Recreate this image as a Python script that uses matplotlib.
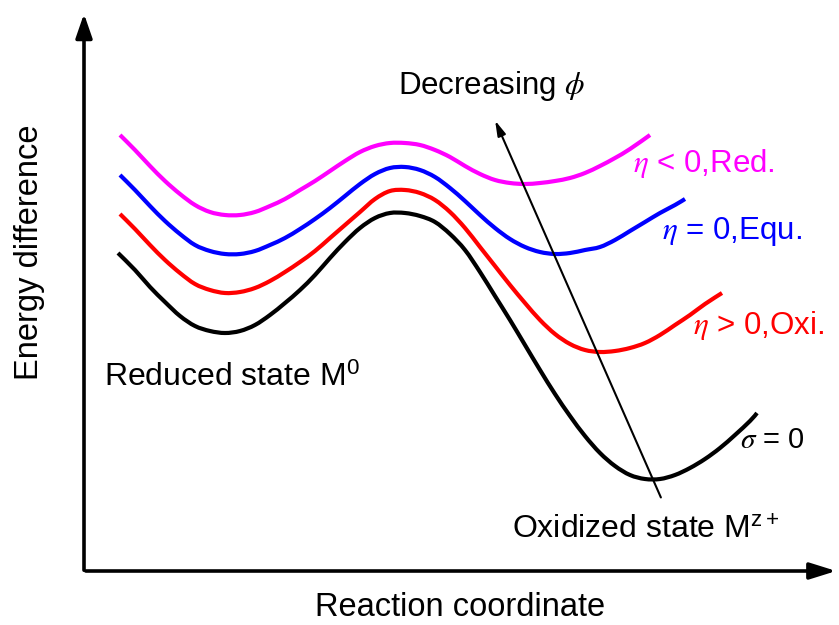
import matplotlib
matplotlib.use("Agg")
import matplotlib.pyplot as plt
from matplotlib.path import Path
from matplotlib.patches import PathPatch

plt.rcParams['font.family'] = ['Liberation Sans', 'DejaVu Sans']
plt.rcParams['mathtext.fontset'] = 'stix'

# curves (x, y in picture units, y grows downward)
black_x = [118, 135, 150, 165, 180, 195, 210, 225, 240, 255, 270, 285, 300, 315, 330, 345, 360, 375, 390,
           405, 420, 435, 450, 465, 480, 495, 510, 525, 540, 555, 570, 585, 600, 615, 630, 645, 660, 675,
           690, 705, 720, 735, 750, 757]
black_y = [253, 270, 287, 302, 316, 326, 331, 333, 331, 325, 315, 303, 290, 275, 258, 242, 228, 218, 213,
           213, 216, 222, 234, 250, 272, 296, 320, 345, 370, 394, 416, 436, 453, 466, 475, 479, 479, 475,
           468, 459, 448, 435, 421, 413]

red_x = [120, 135, 150, 165, 180, 195, 210, 225, 240, 255, 270, 285, 300, 315, 330, 345, 360, 375, 390,
         405, 420, 435, 450, 465, 480, 495, 510, 525, 540, 555, 570, 585, 600, 615, 630, 645, 660, 675,
         690, 705, 722]
red_y = [214, 229, 245, 260, 273, 284, 290, 293, 292, 288, 281, 272, 262, 251, 238, 225, 212, 199, 191,
         190, 193, 200, 212, 228, 247, 266, 285, 303, 320, 334, 344, 350, 352, 351, 348, 343, 335, 325,
         315, 304, 293]

blue_x = [120, 135, 150, 165, 180, 195, 210, 225, 240, 255, 270, 285, 300, 315, 330, 345, 360, 375, 390,
          405, 420, 435, 450, 465, 480, 495, 510, 525, 540, 555, 570, 585, 600, 615, 630, 645, 660, 675, 685]
blue_y = [175, 190, 206, 221, 234, 245, 251, 254, 254, 251, 245, 238, 229, 219, 208, 196, 184, 174, 168,
          167, 170, 177, 188, 201, 215, 228, 239, 247, 252, 254, 253, 250, 247, 240, 231, 222, 213, 205, 199]

mag_x = [120, 135, 150, 165, 180, 195, 210, 225, 240, 255, 270, 285, 300, 315, 330, 345, 360, 375, 390,
         405, 420, 435, 450, 465, 480, 495, 510, 525, 540, 555, 570, 585, 600, 615, 630, 650]
mag_y = [135, 150, 166, 181, 194, 205, 212, 215, 215, 212, 206, 199, 190, 181, 171, 161, 152, 146, 143,
         143, 145, 150, 157, 166, 174, 180, 183, 184, 183, 181, 178, 173, 166, 158, 149, 135]

labels = [r'$\eta$ < 0,Red.', r'$\eta$ = 0,Equ.', r'$\eta$ > 0,Oxi.', r'$\sigma$ = 0']
label_pos = [(633, 163), (662, 232), (693, 326), (740, 440)]
label_size = [22.5, 22.5, 22.5, 21]
colors = ['#FF00FF', '#0000FF', '#FF0000', 'black']


def smooth_path(xs, ys):
    # bezier segments through the read points (catmull-rom handles)
    pts = list(zip(xs, ys))
    verts = [pts[0]]
    codes = [Path.MOVETO]
    n = len(pts)
    for i in range(n - 1):
        p0 = pts[max(i - 1, 0)]
        p1 = pts[i]
        p2 = pts[i + 1]
        p3 = pts[min(i + 2, n - 1)]
        c1 = (p1[0] + (p2[0] - p0[0]) / 6, p1[1] + (p2[1] - p0[1]) / 6)
        c2 = (p2[0] - (p3[0] - p1[0]) / 6, p2[1] - (p3[1] - p1[1]) / 6)
        verts += [c1, c2, p2]
        codes += [Path.CURVE4] * 3
    return Path(verts, codes)


fig = plt.figure(figsize=(8.39, 6.25), dpi=100)
ax = fig.add_axes([0, 0, 1, 1])
ax.set_xlim(0, 839)
ax.set_ylim(625, 0)
ax.axis('off')

for xs, ys, c in zip([mag_x, blue_x, red_x, black_x], [mag_y, blue_y, red_y, black_y], colors):
    ax.add_patch(PathPatch(smooth_path(xs, ys), facecolor='none', edgecolor=c, lw=3.0, capstyle='butt'))

for t, (x, y), s, c in zip(labels, label_pos, label_size, colors):
    ax.text(x, y, t, color=c, fontsize=s, ha='left', va='center')

# axes with arrows
ax.annotate('', xy=(84, 11), xytext=(84, 573),
            arrowprops=dict(arrowstyle='-|>,head_length=1.45,head_width=0.5', lw=2.6, color='black'))
ax.annotate('', xy=(839, 571), xytext=(83, 571),
            arrowprops=dict(arrowstyle='-|>,head_length=1.6,head_width=0.5', lw=2.6, color='black'))

# decreasing phi arrow
ax.annotate('', xy=(494, 118), xytext=(662, 500),
            arrowprops=dict(arrowstyle='-|>,head_length=0.9,head_width=0.25', lw=1.5, color='black'))
ax.text(398, 86, r'Decreasing $\phi$', fontsize=22.5, ha='left', va='center')

ax.text(104, 378, r'Reduced state M$^{\mathregular{0}}$', fontsize=23, ha='left', va='center')
ax.text(512, 530, r'Oxidized state M$^{\mathregular{z+}}$', fontsize=23, ha='left', va='center')

ax.text(460, 607, 'Reaction coordinate', fontsize=23.5, ha='center', va='center')
ax.text(30, 252, 'Energy difference', fontsize=23.5, ha='center', va='center', rotation=90)

fig.savefig('out.png', dpi=100)
